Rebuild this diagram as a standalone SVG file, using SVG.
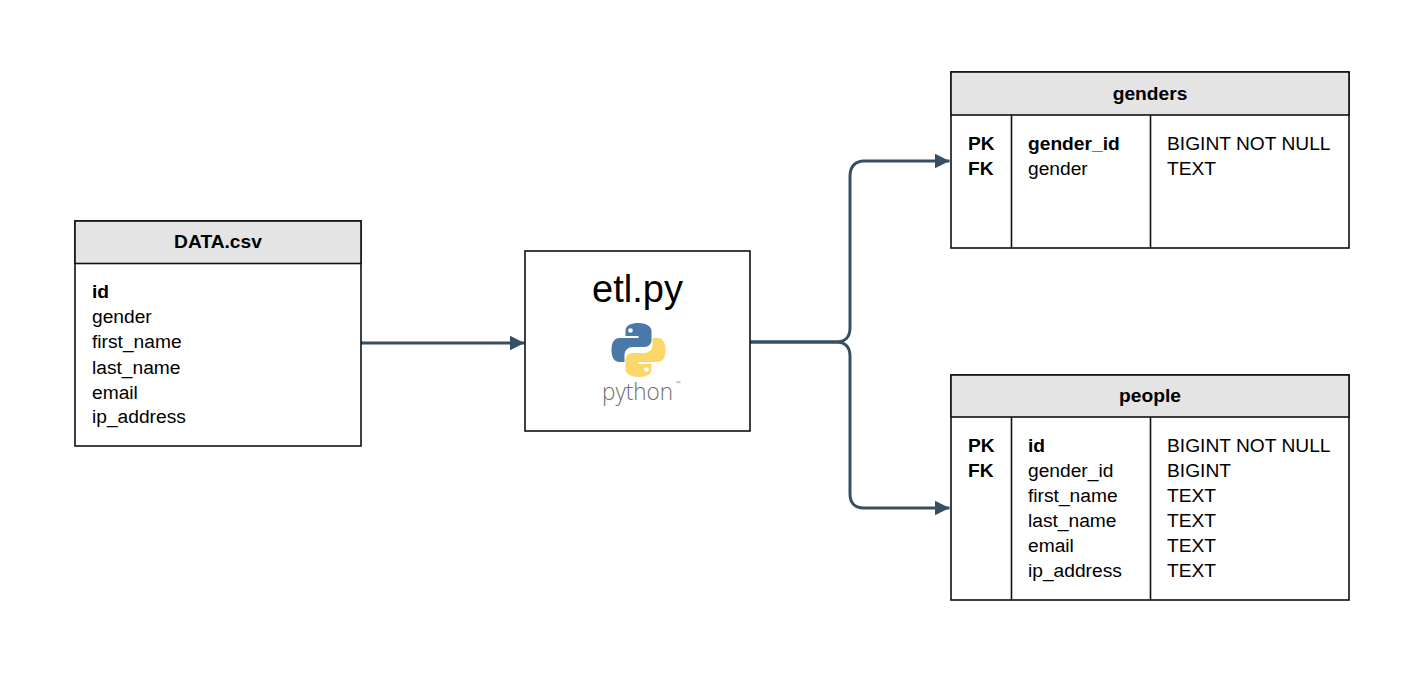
<svg xmlns="http://www.w3.org/2000/svg" width="1402" height="680" viewBox="0 0 1402 680">
<style>
text{font-family:"Liberation Sans",Arial,sans-serif;font-size:19.2px;fill:#000}
.b{font-weight:700}
.t{font-weight:700;text-anchor:middle}
.box{fill:#fff;stroke:#111;stroke-width:1.6}
.head{fill:#e4e4e4;stroke:#111;stroke-width:1.6}
.col{fill:none;stroke:#111;stroke-width:1.6}
.conn{fill:none;stroke:#374f63;stroke-width:3}
</style>
<defs>
<marker id="arr" markerUnits="userSpaceOnUse" markerWidth="16" markerHeight="16" refX="15" refY="8" orient="auto"><path d="M0,0.500 L15,8 L0,15.500 Z" fill="#374f63"/></marker>
<path id="snake" d="M27,0C20,0 14,2 14,8V13H27V15H8C3,15 0,19 0,27C0,35 3,39 8,39H13V32C13,27 17,24 21,24H33C37,24 40,21 40,17V8C40,3 34,0 27,0Z"/>
</defs>
<rect width="1402" height="680" fill="#fff"/>
<g id="connectors">
<path class="conn" d="M361,343H524.500" marker-end="url(#arr)"/>
<path class="conn" d="M750,342H836C845,342 850,337 850,328V176C850,167 855,161 864,161H949.500" marker-end="url(#arr)"/>
<path class="conn" d="M750,342H836C845,342 850,347 850,356V494C850,503 855,508 864,508H949.500" marker-end="url(#arr)"/>
</g>
<g id="data-csv">
<rect class="box" x="75" y="221" width="286" height="225"/>
<rect class="head" x="75" y="221" width="286" height="42.500"/>
<text class="t" x="218" y="248">DATA.csv</text>
<text class="b" x="92" y="298">id</text>
<text x="92" y="323">gender</text>
<text x="92" y="348">first_name</text>
<text x="92" y="374">last_name</text>
<text x="92" y="399">email</text>
<text x="92" y="423">ip_address</text>
</g>
<g id="etl">
<rect class="box" x="525" y="251" width="225" height="180"/>
<text x="637.500" y="302" text-anchor="middle" style="font-size:38px">etl.py</text>
<g transform="translate(611.500,323)">
<use href="#snake" fill="#4a78a8"/>
<circle cx="19" cy="7.500" r="2.300" fill="#fff"/>
<use href="#snake" fill="#fbd769" transform="rotate(180 27 27)"/>
<circle cx="35" cy="46.500" r="2.300" fill="#fff"/>
</g>
<text x="602" y="399.500" textLength="71" lengthAdjust="spacingAndGlyphs" style="font-family:'Open Sans',sans-serif;font-weight:300;font-size:24px;fill:#6e6e6e">python</text>
<text x="675.500" y="385" style="font-size:5.500px;fill:#8a8a8a">™</text>
</g>
<g id="genders">
<rect class="box" x="951" y="72" width="398" height="176"/>
<rect class="head" x="951" y="72" width="398" height="43"/>
<path class="col" d="M1011.500,115V248M1150.500,115V248"/>
<text class="t" x="1150" y="100">genders</text>
<text class="b" x="968" y="150">PK</text>
<text class="b" x="968" y="175">FK</text>
<text class="b" x="1028" y="150">gender_id</text>
<text x="1028" y="175">gender</text>
<text x="1167" y="150">BIGINT NOT NULL</text>
<text x="1167" y="175">TEXT</text>
</g>
<g id="people">
<rect class="box" x="951" y="375" width="398" height="225"/>
<rect class="head" x="951" y="375" width="398" height="42"/>
<path class="col" d="M1011.500,417V600M1150.500,417V600"/>
<text class="t" x="1150" y="402">people</text>
<text class="b" x="968" y="452">PK</text>
<text class="b" x="968" y="477">FK</text>
<text class="b" x="1028" y="452">id</text>
<text x="1028" y="477">gender_id</text>
<text x="1028" y="502">first_name</text>
<text x="1028" y="527">last_name</text>
<text x="1028" y="552">email</text>
<text x="1028" y="577">ip_address</text>
<text x="1167" y="452">BIGINT NOT NULL</text>
<text x="1167" y="477">BIGINT</text>
<text x="1167" y="502">TEXT</text>
<text x="1167" y="527">TEXT</text>
<text x="1167" y="552">TEXT</text>
<text x="1167" y="577">TEXT</text>
</g>
</svg>
